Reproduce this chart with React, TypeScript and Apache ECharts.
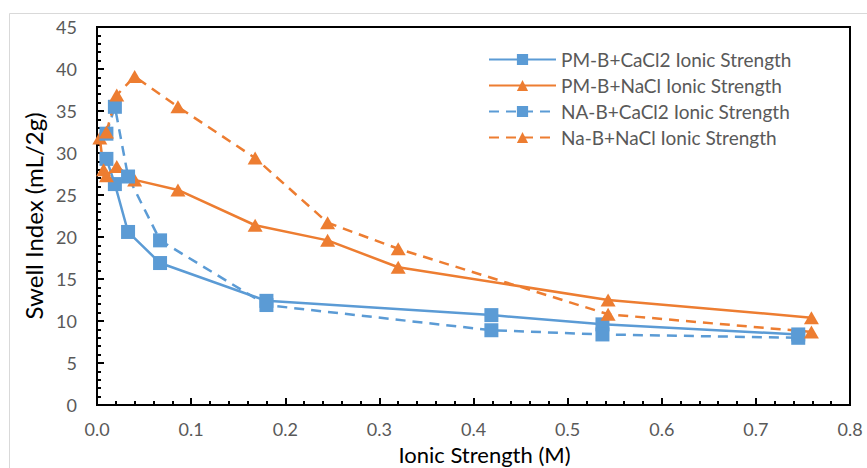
import React, { useEffect, useRef } from "react";
import * as echarts from "echarts";

const xTicks = [0, 0.1, 0.2, 0.3, 0.4, 0.5, 0.6, 0.7, 0.8];
const yTicks = [0, 5, 10, 15, 20, 25, 30, 35, 40, 45];

const seriesNames = [
  "PM-B+CaCl2 Ionic Strength",
  "PM-B+NaCl Ionic Strength",
  "NA-B+CaCl2 Ionic Strength",
  "Na-B+NaCl Ionic Strength",
];

const pmCaCl2X = [0.010, 0.019, 0.033, 0.067, 0.180, 0.419, 0.537, 0.745];
const pmCaCl2Y = [29.3, 26.3, 20.6, 16.9, 12.4, 10.7, 9.6, 8.4];

const pmNaClX = [0.003, 0.007, 0.010, 0.021, 0.040, 0.086, 0.168, 0.245, 0.320, 0.543, 0.759];
const pmNaClY = [31.8, 28.0, 27.3, 28.4, 26.8, 25.6, 21.4, 19.6, 16.4, 12.5, 10.4];

const naCaCl2X = [0.010, 0.019, 0.033, 0.067, 0.180, 0.419, 0.537, 0.745];
const naCaCl2Y = [32.3, 35.5, 27.2, 19.6, 11.9, 8.9, 8.4, 8.0];

const naNaClX = [0.010, 0.021, 0.040, 0.086, 0.168, 0.245, 0.320, 0.543, 0.759];
const naNaClY = [32.5, 36.9, 39.1, 35.5, 29.4, 21.7, 18.6, 10.8, 8.7];

const BLUE = "#5B9BD5";
const ORANGE = "#ED7D31";
const FONT = "Lato, 'Open Sans', sans-serif";

function pairs(xs: number[], ys: number[]) {
  return xs.map((x, i) => [x, ys[i]]);
}

export default function App() {
  const ref = useRef<HTMLDivElement>(null);
  useEffect(() => {
    if (!ref.current) return;
    const chart = echarts.init(ref.current, null, { renderer: "svg" });
    const mk = (
      name: string,
      xs: number[],
      ys: number[],
      color: string,
      symbol: string,
      dashed: boolean
    ) => ({
      name,
      type: "line",
      data: pairs(xs, ys),
      symbol,
      symbolSize: symbol === "rect" ? 14 : [15, 13],
      showSymbol: true,
      itemStyle: { color },
      lineStyle: { color, width: 2.5, type: dashed ? [10, 7] : "solid" },
    });
    chart.setOption({
      animation: false,
      backgroundColor: "#ffffff",
      graphic: [
        {
          type: "rect",
          shape: { x: 9.5, y: 13.5, width: 900, height: 500 },
          style: { fill: "none", stroke: "#d9d9d9", lineWidth: 1 },
          silent: true,
          z: -10,
        },
      ],
      grid: {
        left: 97,
        right: 17,
        top: 27,
        bottom: 63,
        show: true,
        borderColor: "#000",
        borderWidth: 2,
        containLabel: false,
        outerBoundsMode: "none",
      },
      legend: {
        orient: "vertical",
        left: 483,
        top: 45,
        itemWidth: 67,
        itemHeight: 14,
        itemGap: 7,
        data: seriesNames,
        textStyle: {
          fontFamily: FONT,
          fontSize: 19,
          color: "#595959",
          lineHeight: 19,
        },
      },
      xAxis: {
        type: "value",
        min: xTicks[0],
        max: xTicks[xTicks.length - 1],
        interval: 0.1,
        name: "Ionic Strength (M)",
        nameLocation: "middle",
        nameGap: 39,
        nameMoveOverlap: false,
        nameTextStyle: {
          fontFamily: FONT,
          fontSize: 22,
          lineHeight: 20,
          color: "#000",
          padding: [0, 0, 0, 22],
        },
        axisLine: { show: true, lineStyle: { color: "#000", width: 2 } },
        axisTick: { show: true, inside: true, length: 7, lineStyle: { color: "#000", width: 2 } },
        minorTick: { show: true, splitNumber: 5, length: 4, lineStyle: { color: "#000", width: 2 } },
        splitLine: { show: false },
        axisLabel: {
          fontFamily: FONT,
          fontSize: 18,
          lineHeight: 18,
          color: "#595959",
          margin: 15,
          formatter: (v: number) => v.toFixed(1),
        },
      },
      yAxis: {
        type: "value",
        min: yTicks[0],
        max: yTicks[yTicks.length - 1],
        interval: 5,
        name: "Swell Index (mL/2g)",
        nameLocation: "middle",
        nameGap: 52,
        nameRotate: 90,
        nameMoveOverlap: false,
        nameTextStyle: { fontFamily: FONT, fontSize: 24, color: "#000" },
        axisLine: { show: true, lineStyle: { color: "#000", width: 2 } },
        axisTick: { show: true, inside: true, length: 7, lineStyle: { color: "#000", width: 2 } },
        minorTick: { show: true, splitNumber: 5, length: 4, lineStyle: { color: "#000", width: 2 } },
        splitLine: { show: false },
        axisLabel: {
          fontFamily: FONT,
          fontSize: 18,
          color: "#595959",
          margin: 20,
        },
      },
      series: [
        mk(seriesNames[0], pmCaCl2X, pmCaCl2Y, BLUE, "rect", false),
        mk(seriesNames[1], pmNaClX, pmNaClY, ORANGE, "triangle", false),
        mk(seriesNames[2], naCaCl2X, naCaCl2Y, BLUE, "rect", true),
        mk(seriesNames[3], naNaClX, naNaClY, ORANGE, "triangle", true),
      ],
    });
    return () => chart.dispose();
  }, []);
  return (
    <div
      ref={ref}
      style={{ position: "fixed", left: 0, top: 0, width: 867, height: 468 }}
    />
  );
}
